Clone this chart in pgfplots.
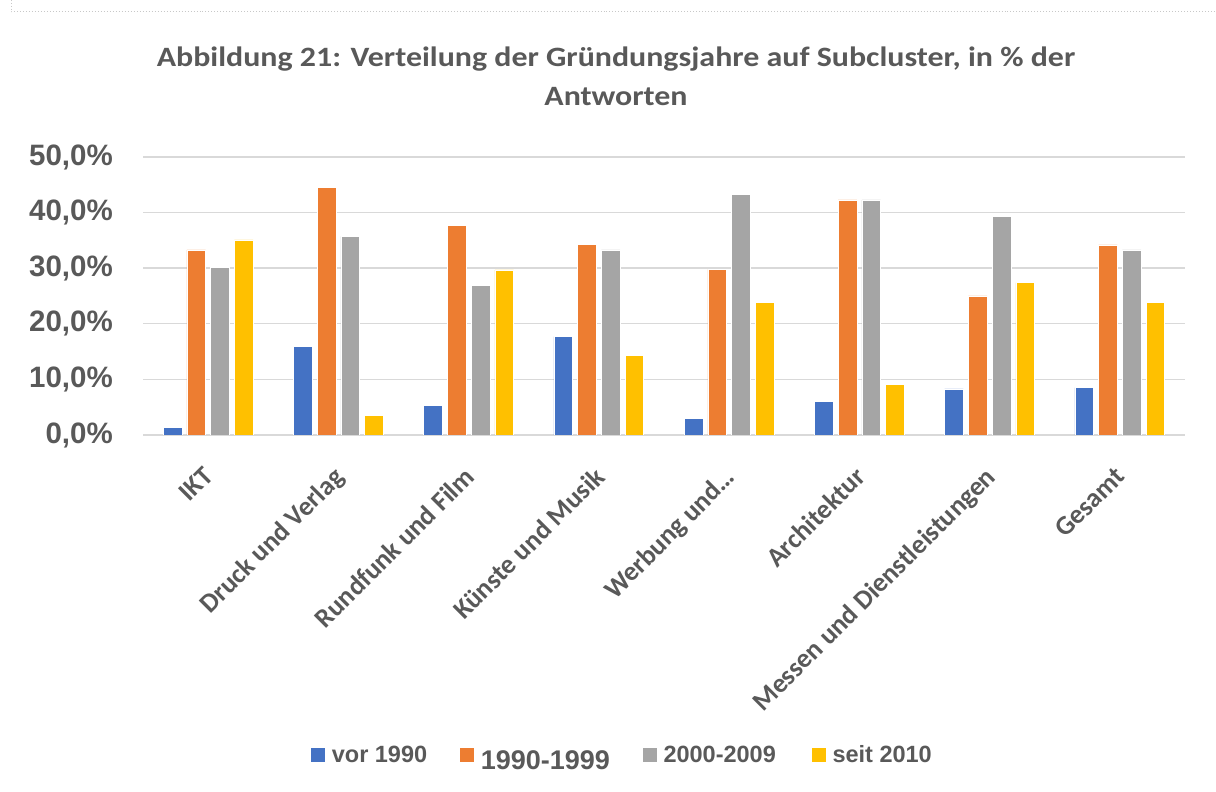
\documentclass[border=0pt]{standalone}
\usepackage{fontspec}
\usepackage{pgfplots}
\pgfplotsset{compat=1.18}
\setmainfont{Carlito}
\newfontfamily\arial{Liberation Sans}
\definecolor{cblue}{HTML}{4472C4}
\definecolor{corange}{HTML}{ED7D31}
\definecolor{cgrey}{HTML}{A5A5A5}
\definecolor{cyellow}{HTML}{FFC000}
\definecolor{textgrey}{HTML}{595959}
\definecolor{gridgrey}{HTML}{D9D9D9}
\definecolor{bordergrey}{HTML}{C8C8C8}
\begin{document}
\begin{tikzpicture}[x=1bp,y=1bp]
\useasboundingbox (0,0) rectangle (1216,792);
\draw[bordergrey, dotted, line width=1bp] (11,792) -- (11,780) -- (1216,780);
\node[anchor=base, text=textgrey, font=\bfseries\fontsize{28bp}{32bp}\selectfont, inner sep=0pt] at (616,725) {\scalebox{1.14}[1]{Abbildung 21: Verteilung der Gründungsjahre auf Subcluster, in \% der}};
\node[anchor=base, text=textgrey, font=\bfseries\fontsize{28bp}{32bp}\selectfont, inner sep=0pt] at (616,686) {\scalebox{1.14}[1]{Antworten}};
\begin{axis}[
  at={(143bp,357bp)}, anchor=south west,
  scale only axis, width=1042bp, height=278bp,
  xmin=-0.5, xmax=7.5, ymin=0, ymax=50,
  ybar=5bp, bar width=18.7bp,
  axis x line*=bottom, axis y line*=left,
  x axis line style={draw=gridgrey, line width=1.4bp},
  y axis line style={draw=none},
  ymajorgrids, grid style={draw=gridgrey, line width=1.4bp},
  xtick={0,...,7},
  xticklabels={{IKT}, {Druck und Verlag}, {Rundfunk und Film}, {Künste und Musik}, {Werbung und\ldots}, {Architektur}, {Messen und Dienstleistungen}, {Gesamt}},
  xticklabel style={xshift=-6bp, yshift=-26bp, rotate=45, anchor=north east, inner sep=0pt, text=textgrey, font=\bfseries\fontsize{27bp}{30bp}\selectfont},
  ytick={0,10,20,30,40,50},
  yticklabels={{0,0\%},{10,0\%},{20,0\%},{30,0\%},{40,0\%},{50,0\%}},
  yticklabel style={anchor=east, inner sep=0pt, xshift=-30bp, text=textgrey, font=\arial\bfseries\fontsize{29.5bp}{33bp}\selectfont},
  tick style={draw=none},
  legend columns=4,
  legend style={at={(0.1603,-1.0935)}, anchor=north west, draw=none, inner sep=0pt, column sep=0pt, text=textgrey, font=\arial\bfseries\fontsize{23.5bp}{27bp}\selectfont, nodes={inner sep=0pt}},
  legend image code/.code={\fill[#1] (0bp,-7.5bp) rectangle (15bp,7.5bp); \path (21bp,0bp);},
  every axis plot/.append style={draw=white, line width=0.6bp},
]
\addplot[fill=cblue] coordinates {(0,1.3) (1,16.0) (2,5.3) (3,17.7) (4,3.0) (5,6.1) (6,8.3) (7,8.5)};
\addlegendentry{vor 1990\hspace*{32bp}\null}
\addplot[fill=corange] coordinates {(0,33.3) (1,44.6) (2,37.7) (3,34.3) (4,29.8) (5,42.3) (6,25.0) (7,34.2)};
\addlegendentry{\raisebox{0pt}[30.4bp][0pt]{\fontsize{27bp}{30bp}\selectfont 1990-1999}\hspace*{32bp}\null}
\addplot[fill=cgrey] coordinates {(0,30.2) (1,35.7) (2,26.9) (3,33.3) (4,43.3) (5,42.3) (6,39.3) (7,33.3)};
\addlegendentry{2000-2009\hspace*{35bp}\null}
\addplot[fill=cyellow] coordinates {(0,35.1) (1,3.5) (2,29.7) (3,14.3) (4,23.8) (5,9.1) (6,27.4) (7,23.8)};
\addlegendentry{seit 2010}
\end{axis}
\end{tikzpicture}
\end{document}
